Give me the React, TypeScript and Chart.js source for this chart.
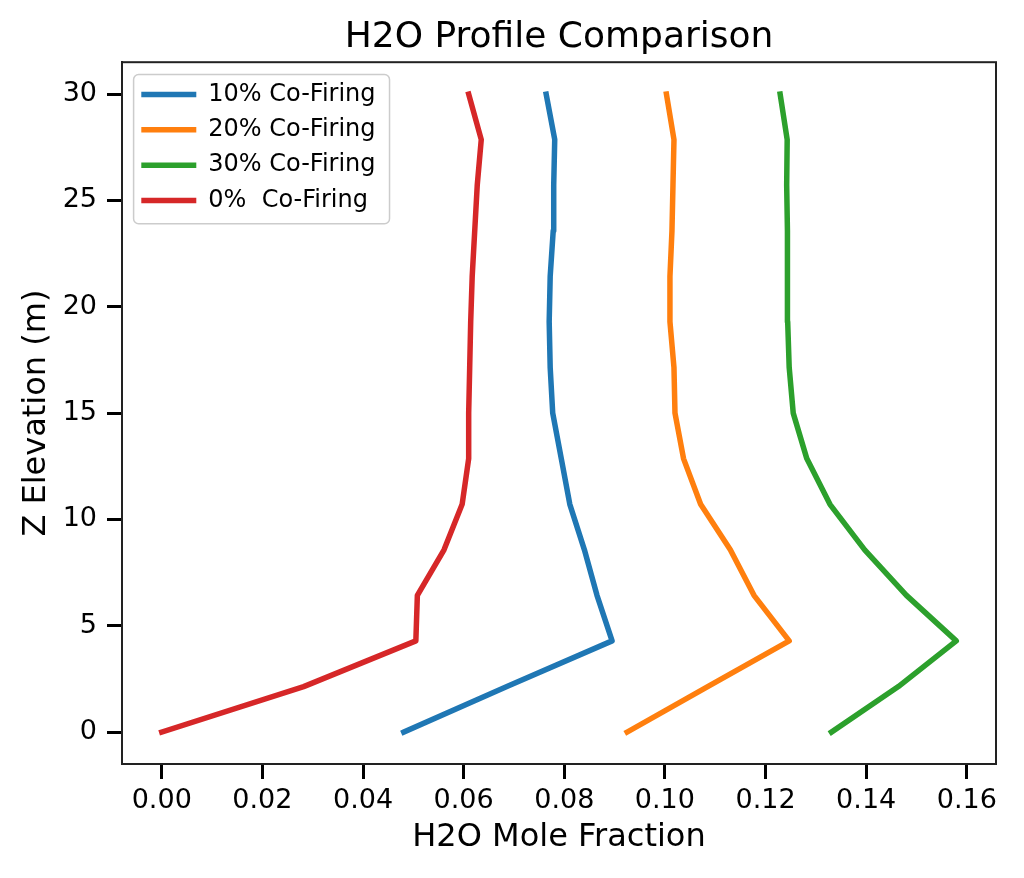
import React, { useEffect, useRef } from 'react';
import { Chart, registerables } from 'chart.js';

Chart.register(...registerables);

// elevation (m) of each sample point, shared by all profiles
const elevation = [0, 2.14, 4.29, 6.43, 8.57, 10.71, 12.86, 15, 17.14, 19.29, 21.43, 23.57, 25.71, 27.86, 30];

// H2O mole fraction for each co-firing case
const cofire10 = [0.0481, 0.0686, 0.0895, 0.0865, 0.0840, 0.0811, 0.0794, 0.0777, 0.0772, 0.0770, 0.0772, 0.0778, 0.0779, 0.0781, 0.0764];
const cofire20 = [0.0925, 0.1085, 0.1247, 0.1177, 0.1130, 0.1071, 0.1037, 0.1020, 0.1018, 0.1010, 0.1010, 0.1014, 0.1016, 0.1018, 0.1003];
const cofire30 = [0.1331, 0.1464, 0.1579, 0.1480, 0.1397, 0.1328, 0.1282, 0.1255, 0.1247, 0.1244, 0.1244, 0.1243, 0.1242, 0.1243, 0.1229];
const cofire0 = [0.0000, 0.0282, 0.0505, 0.0508, 0.0561, 0.0597, 0.0610, 0.0610, 0.0612, 0.0614, 0.0617, 0.0622, 0.0627, 0.0635, 0.0610];

const seriesLabels = ['10% Co-Firing', '20% Co-Firing', '30% Co-Firing', '0%  Co-Firing'];
const seriesColors = ['#1f77b4', '#ff7f0e', '#2ca02c', '#d62728'];

const FONT = "'DejaVu Sans', 'Liberation Sans', sans-serif";
const LEGEND_PAD = 11.33;

const framePlugin = {
  id: 'frame',
  afterLayout(chart: any) {
    const area = chart.chartArea;
    // centre the title over the plot, like matplotlib does
    const title = chart.titleBlock;
    if (title) {
      title.left = area.left;
      title.right = area.right;
      title.width = area.right - area.left;
    }
    // nudge the legend into the upper-left corner
    const legend = chart.legend;
    if (legend) {
      legend.left = area.left + 19.3 - LEGEND_PAD;
      legend.top = area.top + 20.3 - LEGEND_PAD;
      legend.bottom = Math.max(legend.bottom, area.bottom);
    }
  },
  afterDraw(chart: any) {
    const { ctx, chartArea: a } = chart;
    ctx.save();
    ctx.strokeStyle = '#222';
    ctx.lineWidth = 2;
    ctx.strokeRect(a.left, a.top, a.right - a.left, a.bottom - a.top);

    const legend = chart.legend;
    if (legend && legend.legendItems) {
      const itemX = legend.left + LEGEND_PAD;
      const firstCenter = legend.top + LEGEND_PAD + 12;
      const n = legend.legendItems.length;
      const lastCenter = firstCenter + (n - 1) * (24 + LEGEND_PAD);
      ctx.font = `24px ${FONT}`;
      let maxW = 0;
      legend.legendItems.forEach((it: any) => {
        maxW = Math.max(maxW, ctx.measureText(it.text).width);
      });
      const x0 = itemX - 7.7;
      const x1 = itemX + 55 + 12 + maxW + 14;
      const y0 = firstCenter - 20;
      const y1 = lastCenter + 23.3;
      const r = 5;
      ctx.strokeStyle = '#cccccc';
      ctx.lineWidth = 1.5;
      ctx.beginPath();
      ctx.moveTo(x0 + r, y0);
      ctx.arcTo(x1, y0, x1, y1, r);
      ctx.arcTo(x1, y1, x0, y1, r);
      ctx.arcTo(x0, y1, x0, y0, r);
      ctx.arcTo(x0, y0, x1, y0, r);
      ctx.closePath();
      ctx.stroke();
    }
    ctx.restore();
  },
};

export default function App() {
  const canvasRef = useRef<HTMLCanvasElement>(null);

  useEffect(() => {
    if (!canvasRef.current) return;

    const datasets = [cofire10, cofire20, cofire30, cofire0].map((vals, i) => ({
      label: seriesLabels[i],
      data: vals.map((x, j) => ({ x, y: elevation[j] })),
      borderColor: seriesColors[i],
      backgroundColor: seriesColors[i],
      borderWidth: 5.5,
      pointRadius: 0,
      showLine: true,
      tension: 0,
      borderJoinStyle: 'round' as const,
      borderCapStyle: 'square' as const,
    }));

    const chart = new Chart(canvasRef.current, {
      type: 'scatter',
      data: { datasets },
      plugins: [framePlugin],
      options: {
        animation: false,
        responsive: false,
        events: [],
        layout: { padding: { left: 0, right: 28, top: 0, bottom: 0 } },
        plugins: {
          tooltip: { enabled: false },
          title: {
            display: true,
            text: 'H2O Profile Comparison',
            color: '#000',
            font: { family: FONT, size: 36, weight: 'normal' },
            padding: { top: 16, bottom: 3 },
          },
          legend: {
            position: 'chartArea',
            align: 'start',
            labels: {
              color: '#000',
              font: { family: FONT, size: 24 },
              boxWidth: 55,
              boxHeight: 5.5,
              padding: LEGEND_PAD,
              generateLabels: (c: any) =>
                Chart.defaults.plugins.legend.labels.generateLabels(c).map((l: any) => ({ ...l, lineWidth: 0 })),
            },
          },
        },
        scales: {
          x: {
            type: 'linear',
            min: -0.0079,
            max: 0.1658,
            afterFit: (s: any) => { s.height = 114; },
            border: { display: true, color: '#222', width: 2 },
            grid: { drawOnChartArea: false, drawTicks: true, tickLength: 15, tickWidth: 3, tickColor: '#000' },
            ticks: {
              stepSize: 0.02,
              includeBounds: false,
              padding: 6,
              maxRotation: 0,
              autoSkip: false,
              color: '#000',
              font: { family: FONT, size: 27 },
              callback: (v: any) => Number(v).toFixed(2),
            },
            title: {
              display: true,
              text: 'H2O Mole Fraction',
              color: '#000',
              font: { family: FONT, size: 32 },
              padding: { top: 21, bottom: 21 },
            },
          },
          y: {
            type: 'linear',
            min: -1.5,
            max: 31.5,
            afterFit: (s: any) => { s.width = 122; },
            border: { display: true, color: '#222', width: 2 },
            grid: { drawOnChartArea: false, drawTicks: true, tickLength: 15, tickWidth: 3, tickColor: '#000' },
            ticks: {
              stepSize: 5,
              includeBounds: false,
              padding: 10,
              color: '#000',
              font: { family: FONT, size: 27 },
              callback: (v: any) => String(v),
            },
            title: {
              display: true,
              text: 'Z Elevation (m)',
              color: '#000',
              font: { family: FONT, size: 32 },
              padding: { top: 17, bottom: 17 },
            },
          },
        },
      },
    } as any);

    return () => chart.destroy();
  }, []);

  return (
    <div style={{ position: 'absolute', left: 0, top: 0, width: 1024, height: 878, background: '#fff' }}>
      <canvas ref={canvasRef} width={1024} height={878} style={{ display: 'block', width: 1024, height: 878 }} />
    </div>
  );
}
